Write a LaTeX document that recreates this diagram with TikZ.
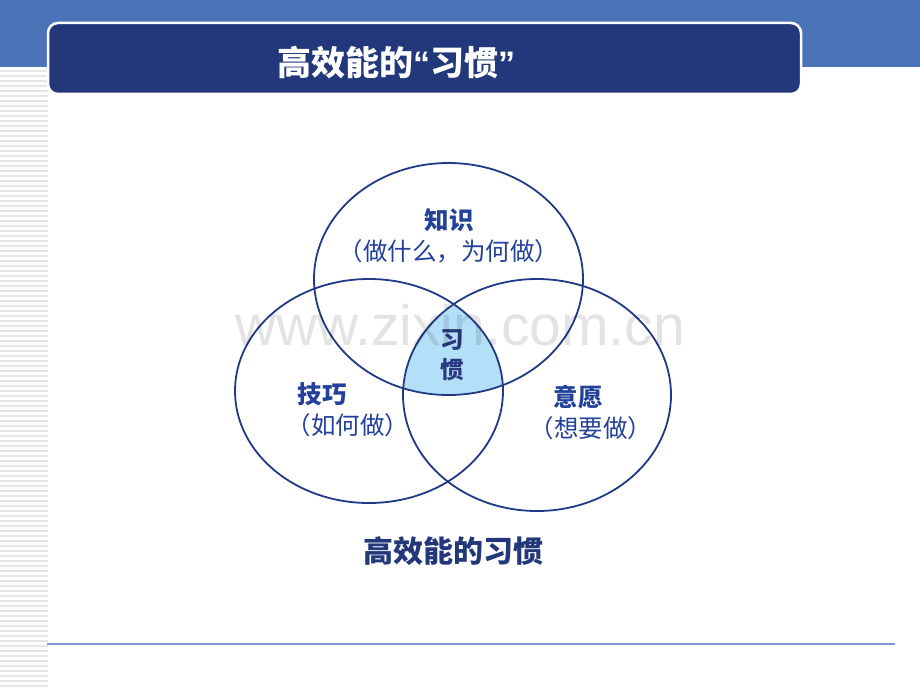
\documentclass[tikz,border=0pt]{standalone}
\usepackage{fontspec}
\usetikzlibrary{shapes.geometric}
\newfontfamily\cjk{Noto Sans CJK SC}
\newfontfamily\wmfont{Liberation Sans}
\definecolor{bandblue}{HTML}{4A73B8}
\definecolor{navy}{HTML}{22387A}
\definecolor{ringblue}{HTML}{223A86}
\definecolor{labelblue}{HTML}{22419A}
\definecolor{corefill}{HTML}{B3DFF8}
\definecolor{corefont}{HTML}{2B3A80}
\definecolor{stripegray}{HTML}{E5E5E5}
\definecolor{rulecol}{HTML}{7F97CC}
\tikzset{
  ring/.style={ellipse, draw=ringblue, line width=1.8pt, inner sep=0pt},
  headlabel/.style={inner sep=0pt, text=labelblue, font=\cjk\bfseries\fontsize{24.5}{26}\selectfont},
  sublabel/.style={inner sep=0pt, text=labelblue, font=\cjk\fontsize{24.5}{26}\selectfont},
  corelabel/.style={inner sep=0pt, align=center, text=corefont, font=\cjk\bfseries\fontsize{23.5}{30}\selectfont},
  titlebox/.style={draw=white, line width=2.5pt, fill=navy, rounded corners=10pt},
}
\begin{document}
\begin{tikzpicture}[x=1pt,y=-1pt]
\useasboundingbox (0,0) rectangle (920,690);
\fill[white] (0,0) rectangle (920,690);
% top band
\fill[bandblue] (0,0) rectangle (920,67);
% left stripes
\foreach \i in {0,...,124} {
  \fill[stripegray] (0,{70+5*\i}) rectangle (48,{72+5*\i});
}
% title box
\draw[titlebox] (48,23) rectangle (801,94);
\node[inner sep=0pt, text=white, font=\cjk\bfseries\fontsize{34}{36}\selectfont] (title) at (396,63)
  {高效能的{\wmfont\bfseries “}习惯{\wmfont\bfseries ”}};
% core fill
\begin{scope}
  \clip (448.5,279) ellipse [x radius=134.5pt, y radius=116pt];
  \clip (369,391) ellipse [x radius=134pt, y radius=112pt];
  \fill[corefill] (537,395) ellipse [x radius=134pt, y radius=116pt];
\end{scope}
% rings
\node[ring, minimum width=269pt, minimum height=232pt] (know) at (448.5,279) {};
\node[ring, minimum width=268pt, minimum height=224pt] (skill) at (369,391) {};
\node[ring, minimum width=268pt, minimum height=232pt] (will) at (537,395) {};
% labels
\node[headlabel] (knowh) at (449,220) {知识};
\node[sublabel] (knows) at (449,251) {（做什么，为何做）};
\node[headlabel] (skillh) at (322,394) {技巧};
\node[sublabel] (skills) at (348,425) {（如何做）};
\node[headlabel] (willh) at (578,397) {意愿};
\node[sublabel] (wills) at (591,428) {（想要做）};
\node[corelabel] (core) at (452,355) {习\\惯};
% caption
\node[inner sep=0pt, text=navy, font=\cjk\bfseries\fontsize{30}{32}\selectfont] (caption) at (453,551) {高效能的习惯};
% bottom rule
\draw[rulecol, line width=2pt] (47,644) -- (895,644);
% watermark
\node[anchor=base, inner sep=0pt, text=black, text opacity=0.11, font=\wmfont\fontsize{57}{60}\selectfont] (wm) at (460,345) {www.zixin.com.cn};
\end{tikzpicture}
\end{document}
